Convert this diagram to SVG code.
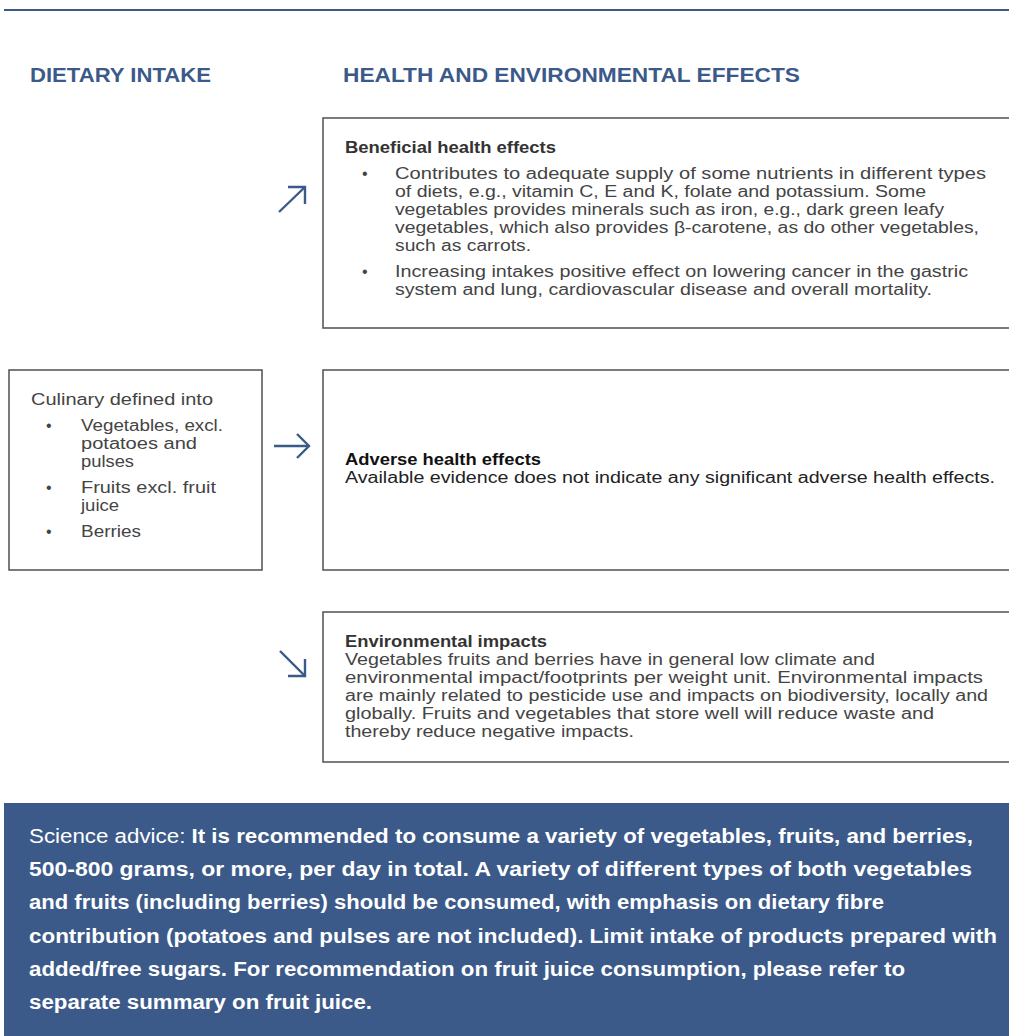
<svg xmlns="http://www.w3.org/2000/svg" width="1009" height="1036" viewBox="0 0 1009 1036">
<style>
.box{fill:#fff;stroke:#5a5a5a;stroke-width:1.6}
.hd{font-family:"Liberation Sans",Arial,sans-serif;font-weight:bold;font-size:20px;fill:#3b5a89}
.t{font-family:"Liberation Sans",Arial,sans-serif;font-size:16px;fill:#444}
.b{font-family:"Liberation Sans",Arial,sans-serif;font-size:16px;font-weight:bold;fill:#333}
.bk{font-family:"Liberation Sans",Arial,sans-serif;font-size:16px;font-weight:bold;fill:#111}
.tk{font-family:"Liberation Sans",Arial,sans-serif;font-size:16px;fill:#222}
.sa{font-family:"Liberation Sans",Arial,sans-serif;font-size:20px;font-weight:bold;fill:#fff}
.ar{fill:none;stroke:#3b5a89;stroke-width:2.4;stroke-linecap:butt}
</style>
<line x1="4" y1="10" x2="1009" y2="10" stroke="#3b5a89" stroke-width="2"/>
<text class="hd" x="30" y="82" textLength="181" lengthAdjust="spacingAndGlyphs">DIETARY INTAKE</text>
<text class="hd" x="343" y="82" textLength="457" lengthAdjust="spacingAndGlyphs">HEALTH AND ENVIRONMENTAL EFFECTS</text>

<g id="intake">
<rect class="box" x="9" y="370" width="253" height="200"/>
<text class="t" x="31" y="405" textLength="182" lengthAdjust="spacingAndGlyphs">Culinary defined into</text>
<text class="t" x="46" y="431">•</text>
<text class="t" x="81" y="431" textLength="142" lengthAdjust="spacingAndGlyphs">Vegetables, excl.</text>
<text class="t" x="81" y="449" textLength="116" lengthAdjust="spacingAndGlyphs">potatoes and</text>
<text class="t" x="81" y="467" textLength="53" lengthAdjust="spacingAndGlyphs">pulses</text>
<text class="t" x="46" y="493">•</text>
<text class="t" x="81" y="493" textLength="135" lengthAdjust="spacingAndGlyphs">Fruits excl. fruit</text>
<text class="t" x="81" y="511" textLength="38" lengthAdjust="spacingAndGlyphs">juice</text>
<text class="t" x="46" y="537">•</text>
<text class="t" x="81" y="537" textLength="60" lengthAdjust="spacingAndGlyphs">Berries</text>
</g>

<g id="beneficial">
<rect class="box" x="323" y="118" width="700" height="210"/>
<text class="b" x="345" y="153" textLength="211" lengthAdjust="spacingAndGlyphs">Beneficial health effects</text>
<text class="t" x="362" y="179">•</text>
<text class="t" x="395" y="179" textLength="591" lengthAdjust="spacingAndGlyphs">Contributes to adequate supply of some nutrients in different types</text>
<text class="t" x="395" y="197" textLength="531" lengthAdjust="spacingAndGlyphs">of diets, e.g., vitamin C, E and K, folate and potassium. Some</text>
<text class="t" x="395" y="215" textLength="549" lengthAdjust="spacingAndGlyphs">vegetables provides minerals such as iron, e.g., dark green leafy</text>
<text class="t" x="395" y="233" textLength="584" lengthAdjust="spacingAndGlyphs">vegetables, which also provides β-carotene, as do other vegetables,</text>
<text class="t" x="395" y="251" textLength="136" lengthAdjust="spacingAndGlyphs">such as carrots.</text>
<text class="t" x="362" y="277">•</text>
<text class="t" x="395" y="277" textLength="573" lengthAdjust="spacingAndGlyphs">Increasing intakes positive effect on lowering cancer in the gastric</text>
<text class="t" x="395" y="295" textLength="537" lengthAdjust="spacingAndGlyphs">system and lung, cardiovascular disease and overall mortality.</text>
</g>

<g id="adverse">
<rect class="box" x="323" y="370" width="700" height="200"/>
<text class="bk" x="345" y="465" textLength="196" lengthAdjust="spacingAndGlyphs">Adverse health effects</text>
<text class="tk" x="345" y="483" textLength="650" lengthAdjust="spacingAndGlyphs">Available evidence does not indicate any significant adverse health effects.</text>
</g>

<g id="environmental">
<rect class="box" x="323" y="612" width="700" height="150"/>
<text class="b" x="345" y="647" textLength="202" lengthAdjust="spacingAndGlyphs">Environmental impacts</text>
<text class="t" x="345" y="665" textLength="530" lengthAdjust="spacingAndGlyphs">Vegetables fruits and berries have in general low climate and</text>
<text class="t" x="345" y="683" textLength="638" lengthAdjust="spacingAndGlyphs">environmental impact/footprints per weight unit. Environmental impacts</text>
<text class="t" x="345" y="701" textLength="643" lengthAdjust="spacingAndGlyphs">are mainly related to pesticide use and impacts on biodiversity, locally and</text>
<text class="t" x="345" y="719" textLength="589" lengthAdjust="spacingAndGlyphs">globally. Fruits and vegetables that store well will reduce waste and</text>
<text class="t" x="345" y="737" textLength="289" lengthAdjust="spacingAndGlyphs">thereby reduce negative impacts.</text>
</g>

<g id="connectors">
<line class="ar" x1="279" y1="212" x2="305" y2="187"/>
<polyline class="ar" points="288,187 305,187 305,204"/>
<line class="ar" x1="274" y1="446" x2="309" y2="446"/>
<polyline class="ar" points="297,434 309,446 297,458"/>
<line class="ar" x1="280" y1="651" x2="305" y2="676"/>
<polyline class="ar" points="305,659 305,676 288,676"/>
</g>

<g id="advice">
<rect x="4" y="803" width="1005" height="233" fill="#3b5a89"/>
<text class="sa" x="29" y="843" textLength="944" lengthAdjust="spacingAndGlyphs"><tspan font-weight="normal">Science advice: </tspan>It is recommended to consume a variety of vegetables, fruits, and berries,</text>
<text class="sa" x="29" y="876" textLength="943" lengthAdjust="spacingAndGlyphs">500-800 grams, or more, per day in total. A variety of different types of both vegetables</text>
<text class="sa" x="29" y="909" textLength="855" lengthAdjust="spacingAndGlyphs">and fruits (including berries) should be consumed, with emphasis on dietary fibre</text>
<text class="sa" x="29" y="943" textLength="968" lengthAdjust="spacingAndGlyphs">contribution (potatoes and pulses are not included). Limit intake of products prepared with</text>
<text class="sa" x="29" y="976" textLength="876" lengthAdjust="spacingAndGlyphs">added/free sugars. For recommendation on fruit juice consumption, please refer to</text>
<text class="sa" x="29" y="1009" textLength="343" lengthAdjust="spacingAndGlyphs">separate summary on fruit juice.</text>
</g>
</svg>
